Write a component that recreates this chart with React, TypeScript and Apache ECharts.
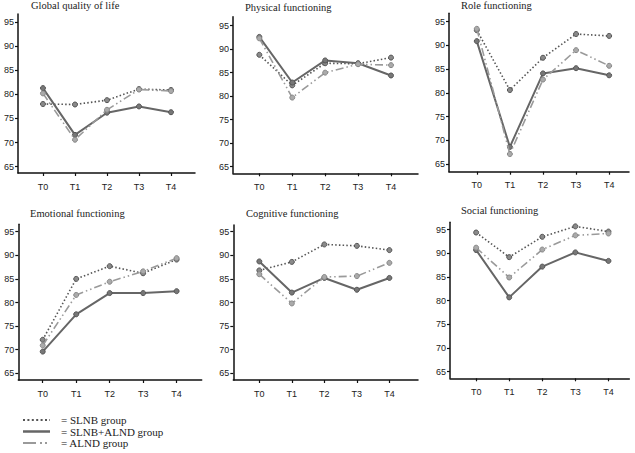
import React, { useEffect, useRef } from "react";
import * as echarts from "echarts";

const categories = ["T0", "T1", "T2", "T3", "T4"];
const panelTitles = [
  "Global quality of life",
  "Physical functioning",
  "Role functioning",
  "Emotional functioning",
  "Cognitive functioning",
  "Social functioning",
];
const yTicks = [65, 70, 75, 80, 85, 90, 95];

// SLNB group (dotted)
const slnbGlobal = [78.0, 77.9, 78.8, 81.1, 80.9];
const slnbPhysical = [88.8, 82.3, 87.0, 86.9, 88.2];
const slnbRole = [93.2, 80.6, 87.4, 92.4, 92.0];
const slnbEmotional = [72.1, 85.0, 87.7, 86.2, 89.1];
const slnbCognitive = [86.8, 88.6, 92.3, 92.0, 91.1];
const slnbSocial = [94.4, 89.2, 93.5, 95.7, 94.6];

// SLNB+ALND group (solid)
const comboGlobal = [81.3, 71.6, 76.2, 77.5, 76.3];
const comboPhysical = [92.6, 82.9, 87.6, 87.0, 84.4];
const comboRole = [90.9, 68.6, 84.1, 85.2, 83.7];
const comboEmotional = [69.6, 77.5, 82.0, 82.0, 82.4];
const comboCognitive = [88.7, 82.1, 85.2, 82.7, 85.2];
const comboSocial = [90.7, 80.7, 87.2, 90.2, 88.4];

// ALND group (dash-dot-dot)
const alndGlobal = [80.2, 70.6, 76.8, 81.0, 80.7];
const alndPhysical = [92.3, 79.7, 85.0, 86.8, 86.6];
const alndRole = [93.5, 67.1, 82.8, 89.0, 85.7];
const alndEmotional = [70.9, 81.6, 84.4, 86.6, 89.4];
const alndCognitive = [86.0, 79.8, 85.4, 85.6, 88.4];
const alndSocial = [91.2, 84.9, 90.8, 93.8, 94.2];

const slnbSets = [slnbGlobal, slnbPhysical, slnbRole, slnbEmotional, slnbCognitive, slnbSocial];
const comboSets = [comboGlobal, comboPhysical, comboRole, comboEmotional, comboCognitive, comboSocial];
const alndSets = [alndGlobal, alndPhysical, alndRole, alndEmotional, alndCognitive, alndSocial];

const legendLabels = ["= SLNB group", "= SLNB+ALND group", "= ALND group"];

// layout: left, top, width, height, yMin, yMax, xMin, xMax
const layouts = [
  [18, 14, 177, 159, 63.7, 96.66, -0.78, 4.75],
  [233, 16.7, 185, 156.6, 63.6, 96.9, -0.8, 4.82],
  [449, 13.3, 180, 158.4, 63.38, 96.77, -0.84, 4.6],
  [18.3, 224.3, 183.4, 155.7, 63.58, 96.57, -0.73, 4.75],
  [233.3, 225, 184.7, 155, 63.58, 96.42, -0.8, 4.88],
  [450, 222.3, 179.3, 156, 63.6, 96.56, -0.79, 4.63],
];
const titlePos = [
  [31, 5],
  [245, 7],
  [461, 5],
  [30, 213],
  [246, 213],
  [461, 210],
];

const SERIF = '"Liberation Serif", "Times New Roman", serif';
const SANS = "Liberation Sans";

const styles = [
  { color: "#555", width: 1.6, type: [1.5, 2.2], sym: "#8a8a8a", symBorder: "#555" },
  { color: "#666", width: 2, type: "solid", sym: "#777", symBorder: "#555" },
  { color: "#9a9a9a", width: 1.6, type: [8, 3, 1.5, 3, 1.5, 3], sym: "#aaa", symBorder: "#888" },
];
const legendDash = [[2, 2.4], null, [13, 4, 2, 3, 2, 3]];

export default function App() {
  const ref = useRef<HTMLDivElement>(null);
  useEffect(() => {
    if (!ref.current) return;
    const chart = echarts.init(ref.current, null, { renderer: "svg" });
    const grid: any[] = [];
    const xAxis: any[] = [];
    const yAxis: any[] = [];
    const series: any[] = [];
    const graphic: any[] = [];
    const xIdx = categories.map((_, i) => i);

    layouts.forEach((l, p) => {
      const [left, top, width, height, yMin, yMax, xMin, xMax] = l;
      grid.push({ left, top, width, height, containLabel: false });
      xAxis.push({
        type: "value",
        gridIndex: p,
        min: xMin,
        max: xMax,
        splitLine: { show: false },
        axisLine: { show: true, onZero: false, lineStyle: { color: "#111", width: 1.5 } },
        axisTick: { show: true, length: 3, customValues: xIdx, lineStyle: { color: "#111", width: 1.2 } },
        axisLabel: {
          customValues: xIdx,
          formatter: (v: number) => categories[Math.round(v)] ?? "",
          color: "#222",
          fontFamily: SANS,
          fontSize: 9,
          margin: 9,
        },
      });
      yAxis.push({
        type: "value",
        gridIndex: p,
        min: yMin,
        max: yMax,
        splitLine: { show: false },
        axisLine: { show: true, onZero: false, lineStyle: { color: "#111", width: 1.5 } },
        axisTick: { show: true, length: 3, customValues: yTicks, lineStyle: { color: "#111", width: 1.2 } },
        axisLabel: {
          customValues: yTicks,
          color: "#222",
          fontFamily: SANS,
          fontSize: 9,
          margin: 4,
        },
      });
      const sets = [slnbSets[p], comboSets[p], alndSets[p]];
      [2, 0, 1].forEach((s) => {
        const st = styles[s];
        series.push({
          type: "line",
          xAxisIndex: p,
          yAxisIndex: p,
          data: sets[s].map((v, i) => [xIdx[i], v]),
          symbol: "circle",
          symbolSize: 5,
          lineStyle: { color: st.color, width: st.width, type: st.type },
          itemStyle: { color: st.sym, borderColor: st.symBorder, borderWidth: 1 },
          z: 2 + s,
        });
      });
      graphic.push({
        type: "text",
        x: titlePos[p][0],
        y: titlePos[p][1],
        style: {
          text: panelTitles[p],
          fontFamily: SERIF,
          fontSize: 10.5,
          fontWeight: "normal",
          fill: "#222",
          verticalAlign: "middle",
        },
      });
    });

    const legendY = [420, 431.5, 443];
    legendY.forEach((y, i) => {
      const st = styles[i];
      graphic.push({
        type: "line",
        shape: { x1: 23, y1: y, x2: 50, y2: y },
        style: {
          stroke: st.color,
          lineWidth: i === 1 ? 2.5 : 1.8,
          lineDash: legendDash[i],
        },
      });
      graphic.push({
        type: "text",
        x: 61,
        y,
        style: {
          text: legendLabels[i],
          fontFamily: SERIF,
          fontSize: 11,
          fill: "#222",
          verticalAlign: "middle",
        },
      });
    });

    chart.setOption({
      animation: false,
      backgroundColor: "#fff",
      grid,
      xAxis,
      yAxis,
      series,
      graphic,
    });
    return () => chart.dispose();
  }, []);
  return (
    <div
      ref={ref}
      style={{ position: "fixed", left: 0, top: 0, width: 635, height: 453 }}
    />
  );
}
